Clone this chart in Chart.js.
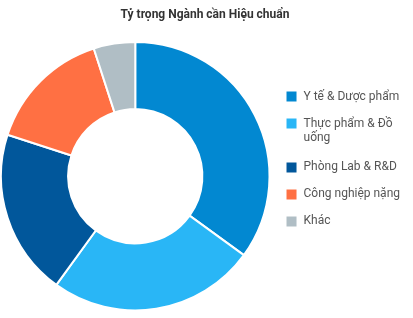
<!DOCTYPE html>
<html>
<head>
<meta charset="utf-8">
<script src="https://cdn.jsdelivr.net/npm/chart.js@4.4.1/dist/chart.umd.min.js"></script>
<style>
  html, body { margin: 0; padding: 0; background: #fff; }
  #wrap { width: 413px; height: 318px; }
</style>
</head>
<body>
<div id="wrap"><canvas id="sectors"></canvas></div>
<script>
var sectorLabels = ['Y tế & Dược phẩm', ['Thực phẩm & Đồ', 'uống'], 'Phòng Lab & R&D', 'Công nghiệp nặng', 'Khác'];
var sectorShare = [35, 25, 20, 15, 5];
var sectorColors = ['#0288D1', '#29B6F6', '#01579B', '#FF7043', '#B0BEC5'];

new Chart(document.getElementById('sectors'), {
    type: 'doughnut',
    data: {
        labels: sectorLabels,
        datasets: [{
            data: sectorShare,
            backgroundColor: sectorColors,
            borderColor: '#ffffff',
            borderWidth: 2
        }]
    },
    options: {
        responsive: true,
        maintainAspectRatio: false,
        animation: false,
        cutout: '50%',
        layout: { padding: { right: 3 } },
        plugins: {
            title: {
                display: true,
                text: 'Tỷ trọng Ngành cần Hiệu chuẩn',
                color: '#333',
                font: { family: 'Roboto', size: 12, weight: 'bold' },
                padding: { top: 8, bottom: 12 }
            },
            legend: {
                position: 'right',
                labels: {
                    color: '#555',
                    font: { family: 'Roboto', size: 12 },
                    boxWidth: 12,
                    boxHeight: 12,
                    padding: 15
                }
            },
            tooltip: { enabled: false }
        }
    }
});
</script>
</body>
</html>
